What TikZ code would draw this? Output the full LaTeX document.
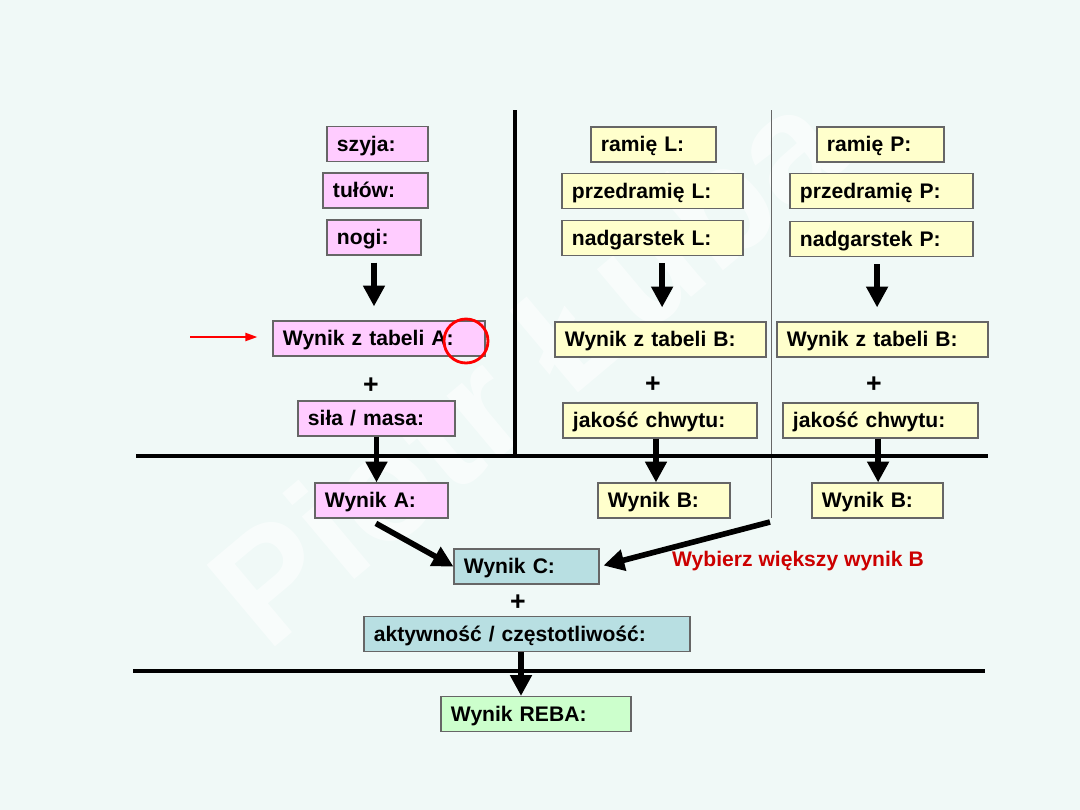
\documentclass[tikz,border=0pt]{standalone}
\usepackage{fontspec}
\setmainfont{Liberation Sans}
\usetikzlibrary{arrows.meta}

\definecolor{bgmint}{HTML}{F0F9F7}
\definecolor{pinkfill}{HTML}{FFCCFF}
\definecolor{yellowfill}{HTML}{FFFFCC}
\definecolor{bluefill}{HTML}{B8DFE2}
\definecolor{greenfill}{HTML}{CCFFCC}
\definecolor{notered}{HTML}{CC0000}

\tikzset{
  field/.style={draw=black!60, line width=0.8pt, minimum height=0.875cm,
    inner xsep=0.25cm, inner ysep=0pt, text width=#1, align=left,
    text height=0.37cm, text depth=0pt,
    font=\fontsize{15}{18}\selectfont\bfseries},
  pinkfield/.style={field=#1, fill=pinkfill},
  yellowfield/.style={field=#1, fill=yellowfill},
  bluefield/.style={field=#1, fill=bluefill},
  greenfield/.style={field=#1, fill=greenfill},
  flow/.style={-{Triangle[length=0.52cm,width=0.52cm]}, line width=4pt},
  divider/.style={line width=3pt},
  thinrule/.style={line width=0.7pt, black!60},
  plussign/.style={font=\fontsize{19}{20}\selectfont\bfseries, inner sep=0pt},
  pointer/.style={-{Triangle[length=0.3cm,width=0.2cm]}, line width=1.5pt, red},
  ring/.style={circle, draw=red, line width=2pt, minimum size=1.1cm, inner sep=0pt},
  note/.style={text=notered, font=\fontsize{15}{18}\selectfont\bfseries},
  wmark/.style={text=white, opacity=0.55, rotate=40,
    font=\fontsize{110}{120}\selectfont\bfseries}
}

\begin{document}
\begin{tikzpicture}[x=0.025cm, y=-0.025cm]
\path[use as bounding box, fill=bgmint] (0,0) rectangle (1080,810);
\node[wmark] (wm) at (525,365) {Piotr Łuba};

% dividing lines
\draw[divider] (515,110) -- (515,456);
\draw[thinrule] (771,110) -- (771,518);
\draw[divider] (136,456) -- (988,456);
\draw[divider] (133,671) -- (985,671);

% table A
\node[pinkfield=2.025cm] (szyja) at (377.5,144) {szyja:};
\node[pinkfield=2.125cm] (tulow) at (375.5,190.5) {tułów:};
\node[pinkfield=1.85cm] (nogi) at (374,237.5) {nogi:};
\node[pinkfield=4.8cm] (tabA) at (379,338.5) {Wynik z tabeli A:};
\node[plussign] (plusA) at (371,386) {+};
\node[pinkfield=3.425cm] (sila) at (376.5,418.5) {siła / masa:};
\node[pinkfield=2.825cm] (wynA) at (381.5,500.5) {Wynik A:};

% table B, left
\node[yellowfield=2.625cm] (ramL) at (653.5,144.5) {ramię L:};
\node[yellowfield=4.025cm] (przL) at (652.5,191) {przedramię L:};
\node[yellowfield=4.025cm] (nadL) at (652.5,238) {nadgarstek L:};
\node[yellowfield=4.775cm] (tabBL) at (660.5,339.5) {Wynik z tabeli B:};
\node[plussign] (plusBL) at (653,385) {+};
\node[yellowfield=4.35cm] (chwL) at (660,420.5) {jakość chwytu:};
\node[yellowfield=2.8cm] (wynBL) at (664,500.5) {Wynik B:};

% table B, right
\node[yellowfield=2.675cm] (ramP) at (880.5,144.5) {ramię P:};
\node[yellowfield=4.075cm] (przP) at (881.5,191) {przedramię P:};
\node[yellowfield=4.075cm] (nadP) at (881.5,239) {nadgarstek P:};
\node[yellowfield=4.775cm] (tabBP) at (882.5,339.5) {Wynik z tabeli B:};
\node[plussign] (plusBP) at (874,385) {+};
\node[yellowfield=4.375cm] (chwP) at (880.5,420.5) {jakość chwytu:};
\node[yellowfield=2.775cm] (wynBP) at (877.5,500.5) {Wynik B:};

% table C and result
\node[bluefield=3.125cm] (wynC) at (526.5,566.5) {Wynik C:};
\node[plussign] (plusC) at (518,603) {+};
\node[bluefield=7.65cm] (akt) at (527,634) {aktywność / częstotliwość:};
\node[greenfield=4.25cm] (reba) at (536,714) {Wynik REBA:};
\node[note] (pickB) at (798,561) {Wybierz większy wynik B};

% highlight
\node[ring] (hl) at (466,341) {};
\coordinate (ptr) at (190,337);
\draw[pointer, shorten >=0.375cm] (ptr) -- (ptr -| tabA.west);

% arrows
\draw[flow, shorten <=0.175cm, shorten >=0.35cm] (nogi.south) -- (nogi.south |- tabA.north);
\draw[flow, shorten <=0.175cm, shorten >=0.35cm] ([xshift=0.24cm]nadL.south) -- ([xshift=0.24cm]nadL.south |- tabBL.north);
\draw[flow, shorten <=0.175cm, shorten >=0.35cm] ([xshift=-0.11cm]nadP.south) -- ([xshift=-0.11cm]nadP.south |- tabBP.north);
\draw[flow] (sila.south) -- (sila.south |- wynA.north);
\draw[flow] ([xshift=-0.1cm]chwL.south) -- ([xshift=-0.1cm]chwL.south |- wynBL.north);
\draw[flow] ([xshift=-0.06cm]chwP.south) -- ([xshift=-0.06cm]chwP.south |- wynBP.north);
\draw[flow] ([xshift=-0.14cm,yshift=-0.12cm]wynA.south) -- (wynC.west);
\coordinate (pick) at (770,522);
\draw[flow, shorten >=0.1cm] (pick) -- (wynC.east);
\draw[flow] ([xshift=-0.15cm]akt.south) -- ([xshift=-0.15cm]akt.south |- reba.north);
\end{tikzpicture}
\end{document}
